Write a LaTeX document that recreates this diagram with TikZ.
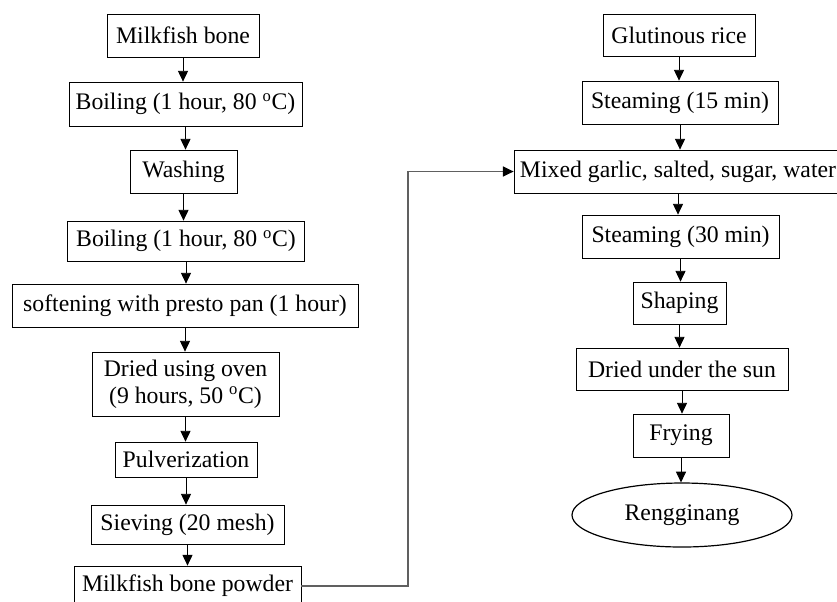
\documentclass[tikz,border=0pt]{standalone}
\usepackage{fontspec}
\setmainfont{Liberation Serif}
\usetikzlibrary{arrows.meta,positioning,shapes.geometric}

\begin{document}
\begin{tikzpicture}[x=0.75pt,y=-0.75pt,
  every node/.style={align=center,font=\fontsize{17.8}{20}\selectfont},
  stepbox/.style 2 args={draw,line width=0.6pt,inner sep=0pt,
    minimum width=#1*0.75pt,minimum height=#2*0.75pt},
  product/.style={draw,ellipse,line width=0.9pt,inner sep=0pt,
    minimum width=220*0.75pt,minimum height=64*0.75pt},
  to/.style={-{Triangle[length=8pt,width=7.5pt]},line width=0.6pt},
  link/.style={-{Triangle[length=8pt,width=7.5pt,color=black]},
    line width=0.9pt,gray!75!black}]

    \useasboundingbox (0,0) rectangle (837,601);

    % bone powder line
    \node[stepbox={152}{43}](bone) at (183,35.5){Milkfish bone};
    \node[stepbox={233}{44}](boil1) at (185.5,104){Boiling (1 hour, 80 \textsuperscript{o}C)};
    \node[stepbox={107}{43}](wash) at (183.5,171.5){Washing};
    \node[stepbox={237}{40}](boil2) at (186,241){Boiling (1 hour, 80 \textsuperscript{o}C)};
    \node[stepbox={346}{43}](soft) at (185,305.5){softening with presto pan (1 hour)};
    \node[stepbox={187}{64}](oven) at (185.5,384){Dried using oven\\(9 hours, 50 \textsuperscript{o}C)};
    \node[stepbox={142}{35}](pulv) at (186,459.5){Pulverization};
    \node[stepbox={193}{39}](sieve) at (187.5,524.5){Sieving (20 mesh)};
    \node[stepbox={227}{40}](powder) at (187.5,586){Milkfish bone powder};

    % rice line
    \node[stepbox={152}{42}](rice) at (679,35){Glutinous rice};
    \node[stepbox={196}{43}](steam1) at (680,102.5){Steaming (15 min)};
    \node[stepbox={328}{43}](mixed) at (678,171.5){Mixed garlic, salted, sugar, water};
    \node[stepbox={197}{43}](steam2) at (680.5,236.5){Steaming (30 min)};
    \node[stepbox={93}{42}](shape) at (679.5,303){Shaping};
    \node[stepbox={212}{42}](sun) at (682,369){Dried under the sun};
    \node[stepbox={96}{43}](fry) at (681,435.5){Frying};
    \node[product](reng) at (682,515){Rengginang};

    \coordinate (turn) at (408,584);

    \draw[to](bone) -- (bone |- boil1.north);
    \draw[to](boil1) -- (boil1 |- wash.north);
    \draw[to](wash) -- (wash |- boil2.north);
    \draw[to](boil2) -- (boil2 |- soft.north);
    \draw[to](soft) -- (soft |- oven.north);
    \draw[to](oven) -- (oven |- pulv.north);
    \draw[to](pulv) -- (pulv |- sieve.north);
    \draw[to](sieve) -- (sieve |- powder.north);

    \draw[to](rice) -- (rice |- steam1.north);
    \draw[to](steam1) -- (steam1 |- mixed.north);
    \draw[to](mixed) -- (mixed |- steam2.north);
    \draw[to](steam2) -- (steam2 |- shape.north);
    \draw[to](shape) -- (shape |- sun.north);
    \draw[to](sun) -- (sun |- fry.north);
    \draw[to](fry) -- (fry |- reng.north);

    \draw[link](powder) -- (powder -| turn) |- (mixed);
\end{tikzpicture}
\end{document}
